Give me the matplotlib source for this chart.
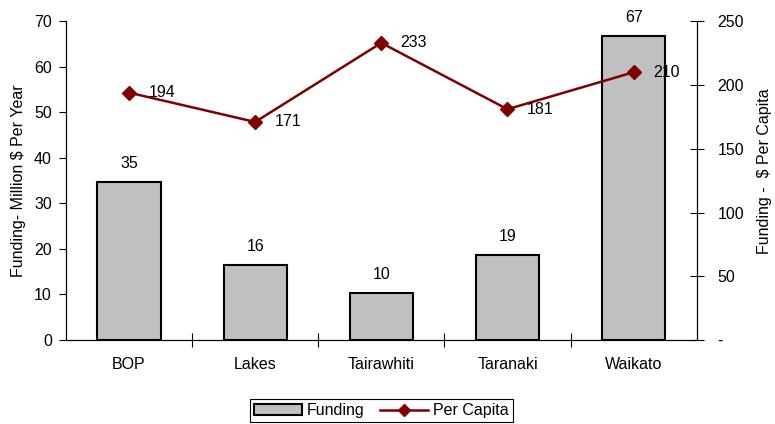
import matplotlib.pyplot as plt
from matplotlib.patches import Patch
from matplotlib.lines import Line2D

plt.rcParams['font.family'] = ['Liberation Sans', 'DejaVu Sans']
plt.rcParams['font.size'] = 11.5

regions = ["BOP", "Lakes", "Tairawhiti", "Taranaki", "Waikato"]
funding = [34.7, 16.4, 10.3, 18.7, 66.7]
per_capita = [194, 171, 233, 181, 210]

fig = plt.figure(figsize=(7.75, 4.24), dpi=100)
ax = fig.add_axes([0.085, 0.198, 0.814, 0.752])
x = range(len(regions))

ax.bar(x, funding, width=0.5, color="#c0c0c0", edgecolor="black", linewidth=1.5, zorder=2)
for i, v in enumerate(funding):
    ax.annotate("%.0f" % v, (i, v), xytext=(0, 8), textcoords="offset points",
                ha="center", va="bottom")

ax.set_xlim(-0.5, len(regions) - 0.5)
ax.set_ylim(0, 70)
ax.set_yticks(range(0, 71, 10))
ax.set_xticks([i + 0.5 for i in range(len(regions) - 1)])
ax.set_xticklabels([])
ax.set_xticks(list(x), minor=True)
ax.set_xticklabels(regions, minor=True)
ax.tick_params(axis="x", which="major", direction="inout", length=10)
ax.tick_params(axis="x", which="minor", length=0, pad=12)
ax.tick_params(axis="y", direction="out", length=5, pad=5)
ax.set_ylabel("Funding- Million $ Per Year", labelpad=6)
ax.spines["top"].set_visible(False)

ax2 = ax.twinx()
ax2.plot(list(x), per_capita, color="#800000", marker="D", markersize=7, linewidth=1.8, zorder=3)
for i, v in enumerate(per_capita):
    ax2.annotate(str(v), (i, v), xytext=(14, 0), textcoords="offset points",
                 ha="left", va="center")
ax2.set_ylim(0, 250)
ax2.set_yticks(range(0, 251, 50))
ax2.set_yticklabels(["-"] + [str(t) for t in range(50, 251, 50)])
ax2.tick_params(axis="y", direction="inout", length=10, pad=10)
ax2.set_ylabel("Funding -  $ Per Capita", labelpad=9)
ax2.yaxis.label.set_y(0.53)
ax2.spines["top"].set_visible(False)

handles = [Patch(facecolor="#c0c0c0", edgecolor="black", linewidth=1.5),
           Line2D([], [], color="#800000", marker="D", markersize=6, linewidth=1.8)]
leg = fig.legend(handles, ["Funding", "Per Capita"], loc="center", ncol=2,
                 bbox_to_anchor=(0.492, 0.031), fancybox=False, framealpha=1,
                 edgecolor="black", handlelength=3.0,
                 borderpad=0.25, columnspacing=1.0, handletextpad=0.3)
leg.get_frame().set_linewidth(0.8)

fig.savefig("out.png", dpi=100)
